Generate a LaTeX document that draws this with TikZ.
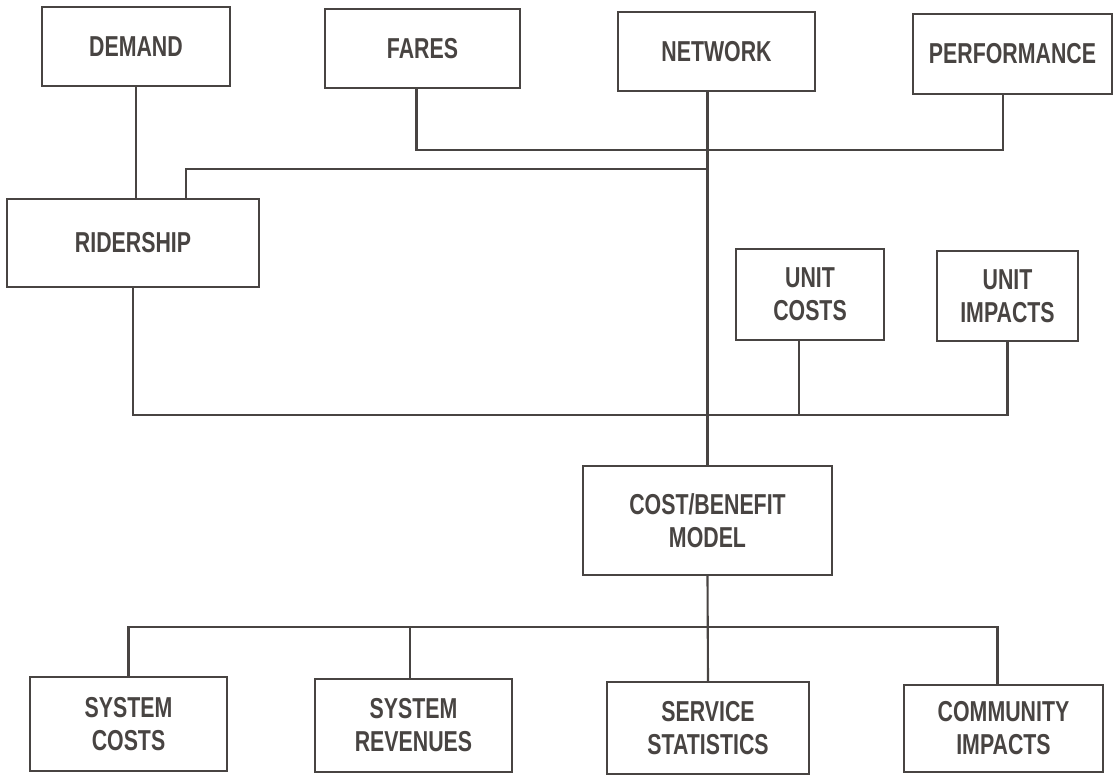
\documentclass[tikz,border=0pt]{standalone}
\usepackage{fontspec}
\setmainfont{Liberation Sans}[FakeStretch=0.74]
\definecolor{ink}{RGB}{72,68,66}

\begin{document}
\begin{tikzpicture}[x=0.025cm,y=-0.025cm,color=ink,line width=1.5pt,
	box/.style={draw,align=center,inner sep=0pt,font=\fontsize{20.5}{23.5}\selectfont\bfseries}]
\useasboundingbox (0,0) rectangle (1120,776);
% inputs
\node[box,minimum width=4.7cm,minimum height=1.975cm] (demand) at (136,46.5) {DEMAND};
\node[box,minimum width=4.875cm,minimum height=1.975cm] (fares) at (422.5,48.5) {FARES};
\node[box,minimum width=4.925cm,minimum height=1.975cm] (network) at (716.5,51.5) {NETWORK};
\node[box,minimum width=4.975cm,minimum height=2cm] (perf) at (1012.5,54) {PERFORMANCE};
\node[box,minimum width=6.3cm,minimum height=2.2cm] (ridership) at (133,243) {RIDERSHIP};
\node[box,minimum width=3.7cm,minimum height=2.275cm] (unitcosts) at (810,294.5) {UNIT\\COSTS};
\node[box,minimum width=3.525cm,minimum height=2.25cm] (unitimpacts) at (1007.5,296) {UNIT\\IMPACTS};
% model
\node[box,minimum width=6.225cm,minimum height=2.725cm] (model) at (707.5,520.5) {COST/BENEFIT\\MODEL};
% outputs
\node[box,minimum width=4.925cm,minimum height=2.35cm] (syscosts) at (128.5,724) {SYSTEM\\COSTS};
\node[box,minimum width=4.925cm,minimum height=2.325cm] (sysrev) at (413.5,725.5) {SYSTEM\\REVENUES};
\node[box,minimum width=5.05cm,minimum height=2.3cm] (servstat) at (708,728) {SERVICE\\STATISTICS};
\node[box,minimum width=4.975cm,minimum height=2.175cm] (community) at (1003.5,728.5) {COMMUNITY\\IMPACTS};
% junctions on the trunk
\coordinate (busfares) at (707.5,150);
\coordinate (busrider) at (707.5,169);
\coordinate (busunit) at (707.5,415);
\coordinate (busout) at (707.5,627);
% connectors
\draw (demand.south) -- (demand.south |- ridership.north);
\draw ([xshift=-0.15cm]fares.south) |- (busfares) -| ([xshift=-0.24cm]perf.south);
\draw ([xshift=1.33cm]ridership.north) |- (busrider);
\draw (model.north) -- (model.north |- network.south);
\draw (ridership.south) |- (busunit) -| (unitimpacts.south);
\draw ([xshift=-0.28cm]unitcosts.south) -- ([xshift=-0.28cm]unitcosts.south |- busunit);
\draw (model.south) -- (servstat.north);
\draw (syscosts.north) |- (busout) -| ([xshift=-0.15cm]community.north);
\draw ([xshift=-0.08cm]sysrev.north) -- ([xshift=-0.08cm]sysrev.north |- busout);
\end{tikzpicture}
\end{document}
